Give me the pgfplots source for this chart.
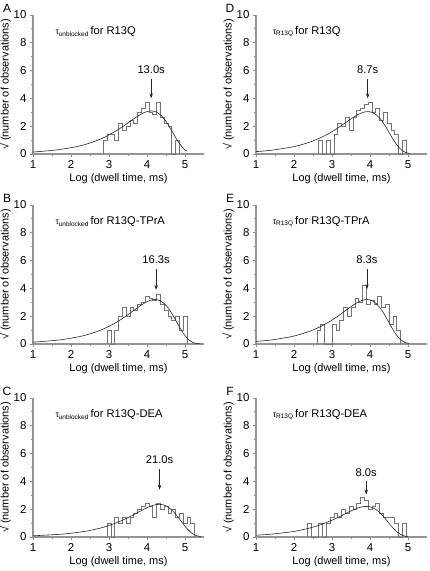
\documentclass[border=0pt]{standalone}
\usepackage{fontspec}
\setmainfont{Liberation Sans}
\usepackage{pgfplots}
\pgfplotsset{compat=1.18}
\usetikzlibrary{arrows.meta}
\pgfplotsset{
  panel/.style={
    scale only axis, width=171bp, height=139bp,
    xmin=1, xmax=5.5, ymin=0, ymax=10,
    axis x line*=bottom, axis y line*=left,
    xtick={1,2,3,4,5}, ytick={0,2,4,6,8,10},
    minor x tick num=1, minor y tick num=1,
    tick align=outside,
    major tick length=3bp, minor tick length=2bp,
    every tick/.style={black!45, line width=0.9bp},
    axis line style={black!42, line width=1.1bp},
    /pgf/number format/assume math mode=true,
    tick label style={font=\fontsize{11.5}{13}\selectfont},
    label style={font=\fontsize{11}{13}\selectfont},
    xlabel={Log (dwell time, ms)},
    ylabel={√ (number of observations)},
    xlabel style={yshift=2bp},
    ylabel style={yshift=-4bp},
    clip=false,
    anchor=south west,
  },
  hist/.style={const plot, draw=black!55, line width=0.6bp, mark=none},
  fit/.style={smooth, draw=black!85, line width=0.6bp, mark=none},
}
\newcommand{\ttl}[2]{{\fontsize{8.5}{9}\selectfont τ\textsubscript{\fontsize{6.5}{7}\selectfont #1}}\,{\fontsize{11.2}{13}\selectfont for #2}}
\newcommand{\arr}[4]{%
  \draw[black!85, line width=0.6bp, -{Stealth[length=5bp,width=3.5bp]}] (axis cs:#1,#2) -- (axis cs:#1,#3);
  \node[font=\fontsize{11.2}{13}\selectfont, anchor=base] at (axis cs:#1,#2) [yshift=5bp] {#4};}
\newcommand{\letter}[1]{\node[font=\fontsize{12}{14}\selectfont] at (rel axis cs:0,1) [xshift=-26bp, yshift=7bp] {#1};}
\begin{document}
\begin{tikzpicture}
\useasboundingbox (0,0) rectangle (430bp,571bp);

% ---------- A ----------
\begin{axis}[panel, at={(33bp,417bp)}]
\addplot[hist] coordinates {(2.85,0)(2.85,1.0)(2.95,1.41)(3.05,1.41)(3.15,1.0)(3.25,2.24)(3.35,1.73)(3.45,2.0)(3.55,2.45)(3.65,2.24)(3.75,3.0)(3.85,3.32)(3.95,3.74)(4.05,3.0)(4.15,2.83)(4.25,3.74)(4.35,2.65)(4.45,2.24)(4.55,2.0)(4.65,0)(4.75,1.0)(4.85,1.0)(4.85,0)};
\addplot[fit] coordinates {(1.00,0.140)(1.61,0.287)(2.11,0.509)(2.36,0.675)(2.61,0.895)(2.86,1.178)(3.11,1.537)(3.235,1.746)(3.36,1.972)(3.485,2.211)(3.61,2.454)(3.735,2.688)(3.86,2.893)(3.985,3.042)(4.0475,3.085)(4.11,3.100)(4.1725,3.083)(4.235,3.030)(4.2975,2.937)(4.36,2.801)(4.4225,2.623)(4.485,2.405)(4.5475,2.151)(4.61,1.870)(4.6725,1.573)(4.735,1.275)(4.7975,0.988)(4.86,0.729)(4.9225,0.507)(4.985,0.329)(5.0475,0.198)};
\node[anchor=west] at (axis cs:1.5,8.8) {\ttl{unblocked}{R13Q}};
\arr{4.11}{5.4}{4.0}{13.0s}
\letter{A}
\end{axis}

% ---------- B ----------
\begin{axis}[panel, at={(33bp,227bp)}]
\addplot[hist] coordinates {(2.95,0)(2.95,1.0)(3.05,0)(3.15,1.0)(3.25,2.0)(3.35,2.65)(3.45,2.0)(3.55,2.65)(3.65,2.45)(3.75,2.83)(3.85,3.0)(3.95,3.46)(4.05,3.32)(4.15,3.16)(4.25,3.61)(4.35,2.83)(4.45,2.45)(4.55,2.0)(4.65,1.73)(4.75,2.0)(4.85,1.0)(4.95,2.0)(5.05,2.0)(5.05,0)};
\addplot[fit] coordinates {(1.00,0.131)(1.71,0.296)(2.21,0.525)(2.46,0.697)(2.71,0.924)(2.96,1.216)(3.21,1.587)(3.335,1.802)(3.46,2.036)(3.585,2.282)(3.71,2.533)(3.835,2.775)(3.96,2.987)(4.085,3.140)(4.1475,3.184)(4.21,3.200)(4.2725,3.183)(4.335,3.128)(4.3975,3.032)(4.46,2.892)(4.5225,2.708)(4.585,2.482)(4.6475,2.220)(4.71,1.930)(4.7725,1.624)(4.835,1.316)(4.8975,1.020)(4.96,0.752)(5.0225,0.523)(5.085,0.340)(5.1475,0.204)(5.21,0.112)(5.31,0.035)(5.41,0.008)};
\node[anchor=west] at (axis cs:1.5,8.8) {\ttl{unblocked}{R13Q-TPrA}};
\arr{4.24}{5.4}{3.9}{16.3s}
\letter{B}
\end{axis}

% ---------- C ----------
\begin{axis}[panel, at={(33bp,34bp)}]
\addplot[hist] coordinates {(2.95,0)(2.95,1.0)(3.05,0)(3.15,1.41)(3.25,1.0)(3.35,1.41)(3.45,1.0)(3.55,1.41)(3.65,1.73)(3.75,2.0)(3.85,2.24)(3.95,2.45)(4.05,2.24)(4.15,1.41)(4.25,2.45)(4.35,2.0)(4.45,2.24)(4.55,1.73)(4.65,2.0)(4.75,1.41)(4.85,1.73)(4.95,1.0)(5.05,1.41)(5.15,1.0)(5.25,1.0)(5.25,0)};
\addplot[fit] coordinates {(1.00,0.085)(1.82,0.218)(2.32,0.386)(2.57,0.512)(2.82,0.678)(3.07,0.893)(3.32,1.165)(3.445,1.324)(3.57,1.495)(3.695,1.676)(3.82,1.860)(3.945,2.038)(4.07,2.193)(4.195,2.306)(4.2575,2.338)(4.32,2.350)(4.3825,2.337)(4.445,2.297)(4.5075,2.226)(4.57,2.124)(4.6325,1.989)(4.695,1.823)(4.7575,1.631)(4.82,1.418)(4.8825,1.193)(4.945,0.966)(5.0075,0.749)(5.07,0.552)(5.1325,0.384)(5.195,0.250)(5.2575,0.150)(5.32,0.082)(5.42,0.025)};
\node[anchor=west] at (axis cs:1.5,8.8) {\ttl{unblocked}{R13Q-DEA}};
\arr{4.33}{4.9}{3.4}{21.0s}
\letter{C}
\end{axis}

% ---------- D ----------
\begin{axis}[panel, at={(256bp,417bp)}]
\addplot[hist] coordinates {(2.65,0)(2.65,1.0)(2.75,0)(2.85,1.0)(2.95,0)(3.05,1.41)(3.15,2.24)(3.25,2.0)(3.35,2.65)(3.45,1.73)(3.55,2.65)(3.65,3.16)(3.75,3.32)(3.85,3.61)(3.95,3.74)(4.05,3.0)(4.15,3.32)(4.25,2.45)(4.35,3.0)(4.45,2.24)(4.55,1.73)(4.65,1.41)(4.75,0)(4.85,1.0)(4.95,1.0)(4.95,0)};
\addplot[fit] coordinates {(1.00,0.170)(1.44,0.282)(1.94,0.501)(2.19,0.665)(2.44,0.880)(2.69,1.159)(2.94,1.512)(3.065,1.718)(3.19,1.940)(3.315,2.175)(3.44,2.414)(3.565,2.645)(3.69,2.847)(3.815,2.993)(3.8775,3.035)(3.94,3.050)(4.0025,3.034)(4.065,2.981)(4.1275,2.890)(4.19,2.756)(4.2525,2.581)(4.315,2.366)(4.3775,2.116)(4.44,1.840)(4.5025,1.548)(4.565,1.254)(4.6275,0.972)(4.69,0.717)(4.7525,0.498)(4.815,0.324)(4.8775,0.195)(4.94,0.107)(5.04,0.033)};
\node[anchor=west] at (axis cs:1.35,8.8) {\ttl{R13Q}{R13Q}};
\arr{3.94}{5.4}{4.0}{8.7s}
\letter{D}
\end{axis}

% ---------- E ----------
\begin{axis}[panel, at={(256bp,227bp)}]
\addplot[hist] coordinates {(2.6,0)(2.6,1.0)(2.7,1.41)(2.8,0)(3.0,1.41)(3.1,1.0)(3.2,1.73)(3.3,2.65)(3.4,2.0)(3.5,2.65)(3.6,3.32)(3.7,3.0)(3.8,4.24)(3.9,2.83)(4.0,3.16)(4.1,2.83)(4.2,3.46)(4.3,2.65)(4.4,2.83)(4.5,1.41)(4.6,2.0)(4.7,1.0)(4.8,1.0)(4.8,0)};
\addplot[fit] coordinates {(1.00,0.183)(1.42,0.296)(1.92,0.525)(2.17,0.697)(2.42,0.924)(2.67,1.216)(2.92,1.587)(3.045,1.802)(3.17,2.036)(3.295,2.282)(3.42,2.533)(3.545,2.775)(3.67,2.987)(3.795,3.140)(3.8575,3.184)(3.92,3.200)(3.9825,3.183)(4.045,3.128)(4.1075,3.032)(4.17,2.892)(4.2325,2.708)(4.295,2.482)(4.3575,2.220)(4.42,1.930)(4.4825,1.624)(4.545,1.316)(4.6075,1.020)(4.67,0.752)(4.7325,0.523)(4.795,0.340)(4.8575,0.204)(4.92,0.112)(5.02,0.035)};
\node[anchor=west] at (axis cs:1.35,8.8) {\ttl{R13Q}{R13Q-TPrA}};
\arr{3.92}{5.4}{3.95}{8.3s}
\letter{E}
\end{axis}

% ---------- F ----------
\begin{axis}[panel, at={(256bp,34bp)}]
\addplot[hist] coordinates {(2.35,0)(2.35,1.0)(2.45,0)(2.65,1.0)(2.75,0)(2.85,1.0)(2.95,1.41)(3.05,1.73)(3.15,1.41)(3.25,2.0)(3.35,1.73)(3.45,2.24)(3.55,2.0)(3.65,2.45)(3.75,2.83)(3.85,2.65)(3.95,2.0)(4.05,2.24)(4.15,2.45)(4.25,1.73)(4.35,1.41)(4.45,1.41)(4.55,1.41)(4.65,1.0)(4.75,0)(4.85,1.0)(4.95,1.0)(4.95,0)};
\addplot[fit] coordinates {(1.00,0.129)(1.40,0.204)(1.90,0.361)(2.15,0.479)(2.40,0.635)(2.65,0.836)(2.90,1.091)(3.025,1.239)(3.15,1.399)(3.275,1.569)(3.40,1.742)(3.525,1.908)(3.65,2.053)(3.775,2.159)(3.8375,2.189)(3.90,2.200)(3.9625,2.188)(4.025,2.150)(4.0875,2.084)(4.15,1.988)(4.2125,1.862)(4.275,1.707)(4.3375,1.527)(4.40,1.327)(4.4625,1.117)(4.525,0.905)(4.5875,0.701)(4.65,0.517)(4.7125,0.359)(4.775,0.234)(4.8375,0.141)(4.90,0.077)(5.00,0.024)};
\node[anchor=west] at (axis cs:1.35,8.8) {\ttl{R13Q}{R13Q-DEA}};
\arr{3.90}{4.0}{3.05}{8.0s}
\letter{F}
\end{axis}
\end{tikzpicture}
\end{document}
